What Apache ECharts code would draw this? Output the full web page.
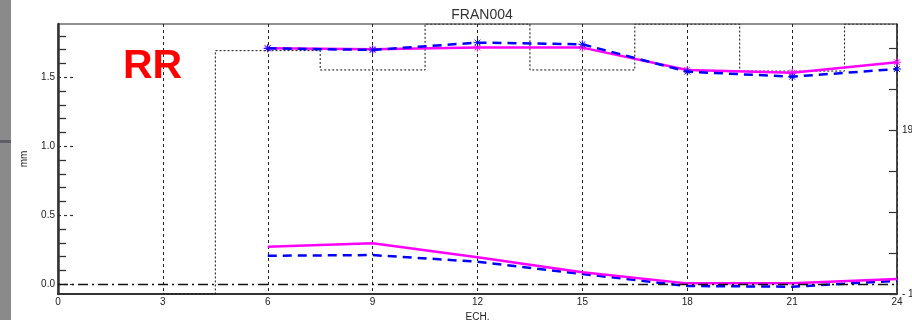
<!DOCTYPE html>
<html>
<head>
<meta charset="utf-8">
<script src="https://cdn.jsdelivr.net/npm/echarts@6/dist/echarts.min.js"></script>
<style>
html,body{margin:0;padding:0;background:#fff;}
#chart{width:912px;height:320px;}
</style>
</head>
<body>
<div id="chart"></div>
<script>
// ---- data ----
const chartTitle = 'FRAN004';
const panelLabel = 'RR';
const xName = 'ECH.';
const yName = 'mm';
const hours = [6, 9, 12, 15, 18, 21, 24];
const upperMagenta = [1.710, 1.703, 1.715, 1.715, 1.553, 1.533, 1.609];
const upperBlue    = [1.710, 1.698, 1.751, 1.739, 1.541, 1.504, 1.560];
const lowerMagenta = [0.272, 0.297, 0.196, 0.087, 0.007, 0.007, 0.038];
const lowerBlue    = [0.207, 0.212, 0.164, 0.075, -0.012, -0.017, 0.026];
const stepHours  = [3, 6, 9, 12, 15, 18, 21, 24];
const stepValues = [-0.07, 1.693, 1.553, 1.886, 1.553, 1.886, 1.545, 1.886];
const xTicks = [0, 3, 6, 9, 12, 15, 18, 21, 24];
const yMajorTicks = [0, 0.5, 1.0, 1.5];
const yMinorTicks = [0.1, 0.2, 0.3, 0.4, 0.6, 0.7, 0.8, 0.9, 1.1, 1.2, 1.3, 1.4, 1.6, 1.7, 1.8];
const rightTicks = [-10, 40, 90, 140, 190, 240, 290];
const rightLabels = [-10, 190];

const pair = (xs, ys) => xs.map((x, i) => [x, ys[i]]);
const asterisk = 'path://M0,-5L0,5M-5,0L5,0M-3.6,-3.6L3.6,3.6M-3.6,3.6L3.6,-3.6';

const chart = echarts.init(document.getElementById('chart'), null, {renderer: 'canvas'});
const baseFont = 'Liberation Sans, Arial, sans-serif';
const yMin = -0.07, yMax = 1.886;

const option = {
  backgroundColor: '#ffffff',
  animation: false,
  textStyle: {fontFamily: baseFont},
  title: {
    text: chartTitle, left: 477, top: 3, textAlign: 'center',
    textStyle: {fontSize: 14, fontWeight: 'normal', color: '#333', fontFamily: baseFont}
  },
  grid: {left: 58, right: 15, top: 24, bottom: 26, show: true,
         containLabel: false, outerBoundsMode: 'none',
         borderColor: '#222', borderWidth: 1, backgroundColor: 'transparent'},
  xAxis: {
    type: 'value', min: xTicks[0], max: xTicks[xTicks.length - 1], interval: 3,
    name: xName, nameLocation: 'middle', nameGap: 15,
    nameTextStyle: {fontSize: 10, color: '#222'},
    axisLine: {show: true, onZero: false, lineStyle: {color: '#333', width: 2}},
    axisTick: {show: false},
    axisLabel: {fontSize: 10, color: '#222', margin: 3},
    splitLine: {show: true, lineStyle: {color: '#222', type: [3, 3], width: 1}}
  },
  yAxis: [
    {
      type: 'value', min: yMin, max: yMax, position: 'left',
      name: yName, nameLocation: 'middle', nameRotate: 90, nameGap: 29,
      nameTextStyle: {fontSize: 10, color: '#222'},
      axisLine: {show: true, onZero: false, lineStyle: {color: '#333', width: 2.5}},
      axisTick: {show: true, inside: true, length: 8, customValues: yMinorTicks,
                 lineStyle: {color: '#333', width: 1.3}},
      axisLabel: {show: true, customValues: yMajorTicks, fontSize: 10, color: '#222', margin: 3,
                  formatter: v => v.toFixed(1)},
      splitLine: {show: false}
    },
    {
      type: 'value', min: yMin, max: yMax, position: 'left',
      axisLine: {show: false, onZero: false},
      axisTick: {show: true, inside: true, length: 15, customValues: yMajorTicks,
                 lineStyle: {color: '#333', width: 1.2, type: [3, 3]}},
      axisLabel: {show: false},
      splitLine: {show: false}
    },
    {
      type: 'value', min: -10, max: 319.3, position: 'right',
      axisLine: {show: true, onZero: false, lineStyle: {color: '#333', width: 1.5}},
      axisTick: {show: true, inside: true, length: 8, customValues: rightTicks,
                 lineStyle: {color: '#333', width: 1.2}},
      axisLabel: {show: true, customValues: rightLabels, fontSize: 10, color: '#222', margin: 5,
                  formatter: v => (v < 0 ? '- ' + Math.abs(v) : String(v))},
      splitLine: {show: false}
    }
  ],
  graphic: [
    {type: 'rect', left: 0, top: 0, shape: {width: 11, height: 320}, style: {fill: '#8a8a8a'}, z: 100},
    {type: 'rect', left: 0, top: 140, shape: {width: 11, height: 3}, style: {fill: '#5e5e6a'}, z: 101},
    {type: 'text', left: 123, top: 46, z: 100,
     style: {text: panelLabel, fill: '#ff0000', font: 'bold 41px Liberation Sans, Arial, sans-serif'}}
  ],
  series: [
    {
      name: 'step', type: 'line', step: 'middle', data: pair(stepHours, stepValues),
      symbol: 'none', silent: true, z: 2,
      lineStyle: {color: '#111', width: 1, type: [2, 2]},
      markLine: {
        silent: true, symbol: 'none', label: {show: false},
        lineStyle: {color: '#111', width: 1.3, type: [10, 4, 2, 4]},
        data: [{yAxis: 0}]
      }
    },
    {
      name: 'upperMagenta', type: 'line', data: pair(hours, upperMagenta),
      symbol: asterisk, symbolSize: 8, z: 3,
      lineStyle: {color: '#ff00ff', width: 2.5},
      itemStyle: {color: '#ff00ff', borderColor: '#ff00ff', borderWidth: 1}
    },
    {
      name: 'upperBlue', type: 'line', data: pair(hours, upperBlue),
      symbol: asterisk, symbolSize: 8, z: 4,
      lineStyle: {color: '#0000ff', width: 2.5, type: [9, 6]},
      itemStyle: {color: '#0000ff', borderColor: '#0000ff', borderWidth: 1}
    },
    {
      name: 'lowerBlue', type: 'line', data: pair(hours, lowerBlue),
      symbol: 'none', z: 3,
      lineStyle: {color: '#0000ff', width: 2.5, type: [9, 6]}
    },
    {
      name: 'lowerMagenta', type: 'line', data: pair(hours, lowerMagenta),
      symbol: 'none', z: 4,
      lineStyle: {color: '#ff00ff', width: 2.5}
    }
  ]
};
chart.setOption(option);
</script>
</body>
</html>
